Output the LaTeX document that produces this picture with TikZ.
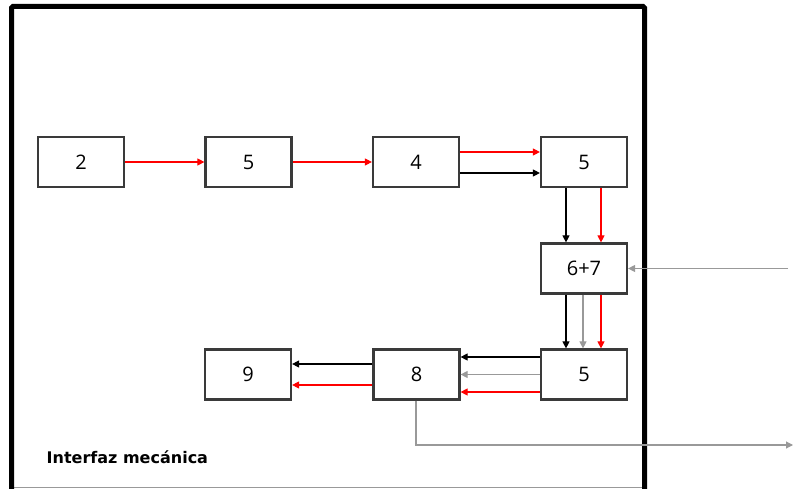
\documentclass[tikz,border=0pt]{standalone}
\usepackage{fontspec}
\setmainfont{Open Sans}
\newfontfamily\labelfont{DejaVu Sans}
\usetikzlibrary{arrows.meta}
\definecolor{boxline}{HTML}{3A3A3A}
\definecolor{grayline}{HTML}{999999}
\definecolor{redline}{HTML}{FF0000}
\tikzset{
  blk/.style={draw=boxline, line width=2.2pt, minimum width=86pt, minimum height=50pt, inner sep=0pt, font=\fontsize{20}{22}\selectfont},
  conn/.style={line width=1.1pt, -{Triangle[length=7pt,width=7pt]}},
  kline/.style={conn, draw=black},
  rline/.style={conn, draw=redline},
  gline/.style={conn, draw=grayline},
}
\begin{document}
\begin{tikzpicture}[x=1pt,y=-1pt]
\useasboundingbox (0,0) rectangle (793,489);
% frame
\draw[grayline, line width=1pt] (11,487.5) -- (644,487.5);
\draw[black, line width=5pt, rounded corners=1.5pt] (11.5,489) -- (11.5,6.5) -- (644.5,6.5) -- (644.5,489);
% boxes
\node[blk] (b2)  at (81,162) {2};
\node[blk] (b5a) at (248.5,162) {5};
\node[blk] (b4)  at (416,162) {4};
\node[blk] (b5b) at (584,162) {5};
\node[blk] (b67) at (584,268.5) {6+7};
\node[blk] (b5c) at (584,374.5) {5};
\node[blk] (b8)  at (416.5,374.5) {8};
\node[blk] (b9)  at (248,374.5) {9};
\coordinate (inR) at (788,268.5);
\coordinate (outR) at (793,445);
% connectors
\draw[rline] (b2.east) -- (b5a.west);
\draw[rline] (b5a.east) -- (b4.west);
\draw[rline] ([yshift=10pt]b4.east) -- ([yshift=10pt]b5b.west);
\draw[kline] ([yshift=-11pt]b4.east) -- ([yshift=-11pt]b5b.west);
\draw[kline] ([xshift=-18pt]b5b.south) -- ([xshift=-18pt]b67.north);
\draw[rline] ([xshift=17pt]b5b.south) -- ([xshift=17pt]b67.north);
\draw[gline] (inR) -- (b67.east);
\draw[kline] ([xshift=-18pt]b67.south) -- ([xshift=-18pt]b5c.north);
\draw[gline] ([xshift=-1pt]b67.south) -- ([xshift=-1pt]b5c.north);
\draw[rline] ([xshift=17pt]b67.south) -- ([xshift=17pt]b5c.north);
\draw[kline] ([yshift=17.5pt]b5c.west) -- ([yshift=17.5pt]b8.east);
\draw[gline] (b5c.west) -- (b8.east);
\draw[rline] ([yshift=-17.5pt]b5c.west) -- ([yshift=-17.5pt]b8.east);
\draw[kline] ([yshift=10.5pt]b8.west) -- ([yshift=10.5pt]b9.east);
\draw[rline] ([yshift=-10.5pt]b8.west) -- ([yshift=-10.5pt]b9.east);
\draw[gline] ([xshift=-0.5pt]b8.south) |- (outR);
% label
\node[anchor=west, font=\labelfont\bfseries\fontsize{16}{18}\selectfont, inner sep=0pt] (lbl) at (46.5,457) {Interfaz mecánica};
\end{tikzpicture}
\end{document}
